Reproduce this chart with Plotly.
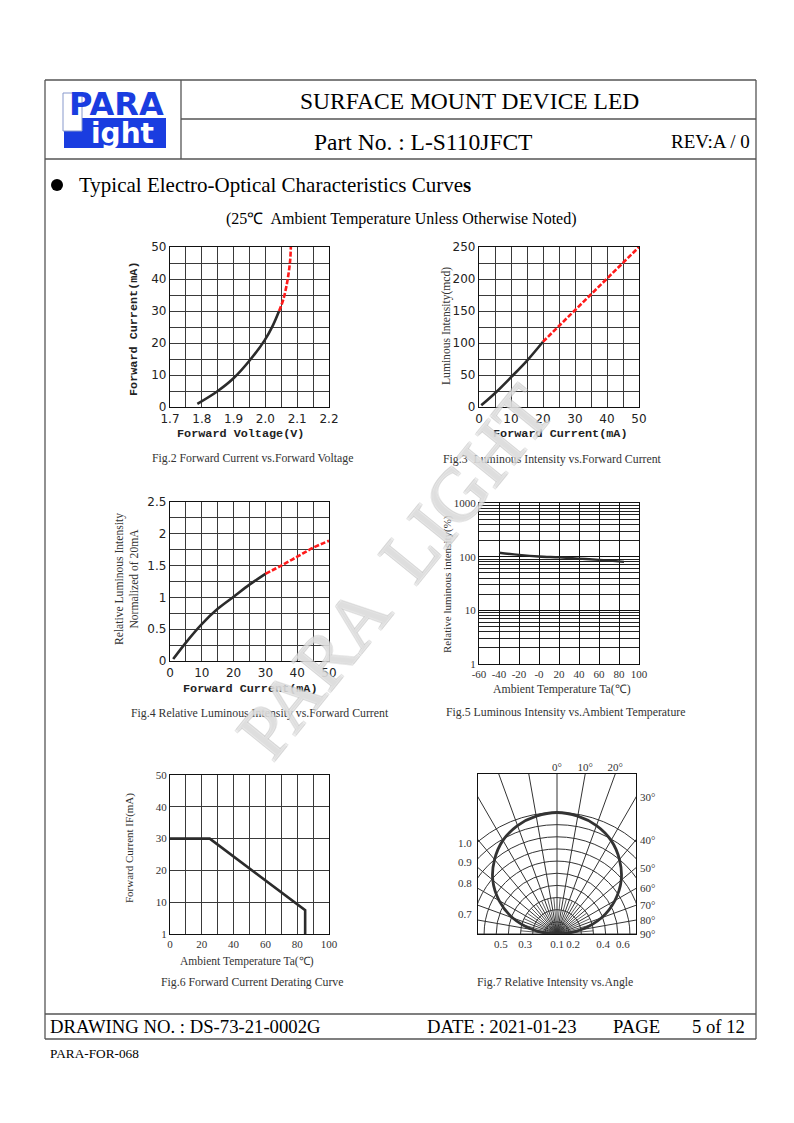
import numpy as np
import plotly.graph_objects as go

# page is photographed with the browser's 8px body margin, so the figure is
# laid out in page pixels shifted by that offset
OFF = 8
W, H = 778, 1107
def px(x): return (x - OFF) / W
def py(y): return 1 - (y - OFF) / H

# ---------------- data ----------------
# Fig.2 Forward current vs forward voltage
fv_solid_v = [1.786, 1.846, 1.899, 1.951, 1.998, 2.024, 2.043]
fv_solid_i = [1.0, 4.7, 8.9, 14.6, 20.9, 25.6, 30.0]
fv_dash_v = [2.043, 2.056, 2.066, 2.073, 2.078, 2.080]
fv_dash_i = [30.0, 33.5, 37.7, 41.8, 46.0, 50.0]

# Fig.3 Luminous intensity vs forward current
li_solid_if = [0.7, 5.4, 10.1, 15.1, 20.0]
li_solid_iv = [2.6, 23.5, 47.0, 73.0, 102.0]
li_dash_if = [20.0, 50.0]
li_dash_iv = [102.0, 250.0]

# Fig.4 Relative luminous intensity vs forward current
rel_solid_if = [1.0, 5.0, 10.0, 15.0, 20.0, 25.0, 30.0]
rel_solid_v = [0.03, 0.29, 0.58, 0.82, 1.01, 1.20, 1.37]
rel_dash_if = [30.0, 35.0, 40.0, 45.0, 50.0]
rel_dash_v = [1.37, 1.50, 1.64, 1.78, 1.89]

# Fig.5 Luminous intensity vs ambient temperature
temp_ta = [-40, -20, 0, 20, 40, 60, 85]
temp_iv = [118, 108, 101, 97, 92, 87, 80]
fig5_xticks = [-60, -40, -20, 0, 20, 40, 60, 80, 100]
fig5_xtext = ['-60', '-40', '-20', '-0', '20', '40', '60', '80', '100']

# Fig.6 Forward current derating curve
der_ta = [0, 25, 85, 85]
der_if = [30, 30, 7.5, 0]
fig6_yticks = [0, 10, 20, 30, 40, 50]
fig6_ytext = ['1', '10', '20', '30', '40', '50']

# Fig.7 Relative intensity vs angle
ang_deg = [-90, -80, -70, -60, -50, -40, -30, -20, -10, 0, 10, 20, 30, 40, 50, 60, 70, 80, 90]
ang_rel = [0.0, 0.20, 0.39, 0.55, 0.69, 0.80, 0.89, 0.95, 0.985, 1.0,
           0.985, 0.95, 0.89, 0.80, 0.69, 0.55, 0.39, 0.20, 0.0]
arc_levels = [0.1, 0.2, 0.3, 0.4, 0.5, 0.6, 0.7, 0.8, 0.9, 1.0]
ray_deg = list(range(-90, 91, 10))
ray_fine_deg = list(range(-85, 90, 10))
top_deg = [0, 10, 20]
right_deg = [30, 40, 50, 60, 70, 80, 90]
left_vals = [0.165, 0.42, 0.593, 0.749]
left_text = ['0.7', '0.8', '0.9', '1.0']
bottom_vals = [-0.461, -0.263, 0.0, 0.132, 0.379, 0.543]
bottom_text = ['0.5', '0.3', '0.1', '0.2', '0.4', '0.6']

# ---------------- styles ----------------
GRID = '#3a3a3a'
BLACK = '#2b2b2b'
RED = '#ff1a1a'
SERIF = 'Liberation Serif'
SANS = 'DejaVu Sans'
MONO = 'Liberation Mono'
DASH = '5px,2px'

fig = go.Figure()

def line_tr(x, y, xa, ya, color, width=2.6, dash='solid', shape='spline'):
    fig.add_trace(go.Scatter(x=x, y=y, xaxis=xa, yaxis=ya, mode='lines',
                             line=dict(color=color, width=width, dash=dash, shape=shape),
                             hoverinfo='skip', showlegend=False))

# Fig.2
line_tr(fv_solid_v, fv_solid_i, 'x', 'y', BLACK)
line_tr(fv_dash_v, fv_dash_i, 'x', 'y', RED, dash=DASH)
# Fig.3
line_tr(li_solid_if, li_solid_iv, 'x2', 'y2', BLACK)
line_tr(li_dash_if, li_dash_iv, 'x2', 'y2', RED, dash=DASH)
# Fig.4
line_tr(rel_solid_if, rel_solid_v, 'x3', 'y3', BLACK)
line_tr(rel_dash_if, rel_dash_v, 'x3', 'y3', RED, dash=DASH)
# Fig.5
line_tr(temp_ta, temp_iv, 'x4', 'y4', BLACK, width=2.4)
# Fig.6
line_tr(der_ta, der_if, 'x5', 'y5', BLACK, width=2.6, shape='linear')
# Fig.7 polar curve, drawn on cartesian axes
th = np.radians(ang_deg)
r = np.array(ang_rel)
cx, cy = r * np.sin(th), r * np.cos(th)
line_tr(cx, cy, 'x6', 'y6', '#333333', width=2.8)
# transparent copies so the overlaid label axes (top / right) get drawn
line_tr(cx, cy, 'x7', 'y6', 'rgba(0,0,0,0)', width=0.1)
line_tr(cx, cy, 'x6', 'y7', 'rgba(0,0,0,0)', width=0.1)


def lin_axis(dom, rng, dtick, mdtick, fam, size, color='#222', **kw):
    d = dict(domain=dom, range=rng, dtick=dtick, tick0=rng[0], showgrid=True,
             gridcolor=GRID, gridwidth=1,
             minor=dict(dtick=mdtick, tick0=rng[0], showgrid=True, gridcolor=GRID,
                        gridwidth=1, ticks=''),
             showline=True, mirror=True, linecolor='#111', linewidth=1.3,
             ticks='', zeroline=False, fixedrange=True, automargin=False,
             tickfont=dict(family=fam, size=size, color=color))
    d.update(kw)
    return d

xdomL = [px(170), px(329)]
xdomR = [px(479), px(639)]

layout = dict(
    template='none',
    width=W, height=H, margin=dict(l=0, r=0, t=0, b=0, pad=0, autoexpand=False),
    paper_bgcolor='white', plot_bgcolor='white', showlegend=False,
    font=dict(family=SERIF, color='black'),
    xaxis=lin_axis(xdomL, [1.7, 2.2], 0.1, 0.05, SANS, 12, anchor='y', tickformat='.1f'),
    yaxis=lin_axis([py(407), py(247)], [0, 50], 10, 5, SANS, 12, anchor='x'),
    xaxis2=lin_axis(xdomR, [0, 50], 10, 5, SANS, 12, anchor='y2'),
    yaxis2=lin_axis([py(407), py(247)], [0, 250], 50, 25, SANS, 12, anchor='x2'),
    xaxis3=lin_axis(xdomL, [0, 50], 10, 5, SANS, 12, anchor='y3'),
    yaxis3=lin_axis([py(661), py(502)], [0, 2.5], 0.5, 0.25, SANS, 12, anchor='x3'),
    xaxis4=dict(domain=xdomR, range=[-60, 100], tickvals=fig5_xticks, ticktext=fig5_xtext,
                showgrid=True, gridcolor='#111', gridwidth=1, showline=True, mirror=True,
                linecolor='#111', linewidth=1.3, ticks='', zeroline=False, anchor='y4',
                automargin=False, tickangle=0,
                tickfont=dict(family=SERIF, size=11, color='#333')),
    yaxis4=dict(domain=[py(664), py(503)], type='log', range=[0, 3],
                tickvals=[1, 10, 100, 1000], ticktext=['1', '10', '100', '1000'],
                showgrid=True, gridcolor='#111', gridwidth=1.2,
                minor=dict(tickvals=[2, 3, 4, 5, 6, 7, 8, 9, 20, 30, 40, 50, 60, 70, 80, 90,
                                     200, 300, 400, 500, 600, 700, 800, 900],
                           showgrid=True, gridcolor='#222', gridwidth=1, ticks=''),
                showline=True, mirror=True, linecolor='#111', linewidth=1.3, ticks='',
                zeroline=False, anchor='x4', automargin=False,
                tickfont=dict(family=SERIF, size=11, color='#333')),
    xaxis5=lin_axis(xdomL, [0, 100], 20, 10, SERIF, 11, color='#333', anchor='y5'),
    yaxis5=dict(domain=[py(934), py(775)], range=[0, 50], tickvals=fig6_yticks,
                ticktext=fig6_ytext, showgrid=True, gridcolor=GRID, gridwidth=1,
                showline=True, mirror=True, linecolor='#111', linewidth=1.3, ticks='',
                zeroline=False, anchor='x5', automargin=False,
                tickfont=dict(family=SERIF, size=11, color='#333')),
)

# Fig.7 axes
S7 = 121.5
xr7 = [-79 / S7, 79 / S7]
yr7 = [0, 160 / S7]
xedge = xr7[1]
ytop = yr7[1]
tf7 = dict(family=SERIF, size=11, color='#333')
common7 = dict(showgrid=False, zeroline=False, ticks='', automargin=False, tickfont=tf7,
               fixedrange=True)
layout['xaxis6'] = dict(domain=[px(478), px(636)], range=xr7, anchor='y6', showline=True,
                        mirror=True, linecolor='#111', linewidth=1.2, tickangle=0,
                        tickvals=bottom_vals, ticktext=bottom_text, **common7)
layout['yaxis6'] = dict(domain=[py(934), py(774)], range=yr7, anchor='x6', showline=True,
                        mirror=True, linecolor='#111', linewidth=1.2, ticklabelstandoff=3,
                        tickvals=left_vals, ticktext=left_text, **common7)
layout['xaxis7'] = dict(overlaying='x6', side='top', range=xr7, anchor='y6', showline=False,
                        tickangle=0, domain=[px(478), px(636)],
                        tickvals=[ytop * np.tan(np.radians(a)) for a in top_deg],
                        ticktext=[f'{a}°' for a in top_deg], **common7)
layout['yaxis7'] = dict(overlaying='y6', side='right', range=yr7, anchor='x6', showline=False,
                        domain=[py(934), py(774)], ticklabelstandoff=3,
                        tickvals=[xedge / np.tan(np.radians(a)) if a < 90 else 0.0 for a in right_deg],
                        ticktext=[f'{a}°' for a in right_deg], **common7)
fig.update_layout(**layout)

shapes = []
for lv in arc_levels:
    shapes.append(dict(type='circle', xref='x6', yref='y6', x0=-lv, x1=lv, y0=-lv, y1=lv,
                       line=dict(color='#333', width=1)))
for a in ray_deg:
    t = np.radians(a)
    shapes.append(dict(type='line', xref='x6', yref='y6', x0=0, y0=0,
                       x1=3 * np.sin(t), y1=3 * np.cos(t), line=dict(color='#333', width=1)))
for a in ray_fine_deg:
    t = np.radians(a)
    shapes.append(dict(type='line', xref='x6', yref='y6', x0=0, y0=0,
                       x1=0.3 * np.sin(t), y1=0.3 * np.cos(t), line=dict(color='#333', width=0.8)))

# page frame
LC = '#555'
def pline(x0, y0, x1, y1, w=1.3):
    shapes.append(dict(type='line', xref='paper', yref='paper', x0=px(x0), y0=py(y0),
                       x1=px(x1), y1=py(y1), line=dict(color=LC, width=w)))
pline(45, 80, 756, 80)
pline(45, 80, 45, 1039)
pline(756, 80, 756, 1039)
pline(181, 80, 181, 159)
pline(181, 119, 756, 119)
pline(45, 159, 756, 159)
pline(45, 1014, 756, 1014)
pline(45, 1039, 756, 1039)

# logo
BLUE = '#1a3de0'
shapes.append(dict(type='rect', xref='paper', yref='paper', x0=px(64), x1=px(166),
                   y0=py(148), y1=py(118), fillcolor=BLUE, line=dict(width=0)))
shapes.append(dict(type='rect', xref='paper', yref='paper', x0=px(63), x1=px(82),
                   y0=py(131), y1=py(93), fillcolor='white', line=dict(color='#8899cc', width=1)))
# bullet
shapes.append(dict(type='circle', xref='paper', yref='paper', x0=px(51), x1=px(63),
                   y0=py(191), y1=py(179), fillcolor='black', line=dict(width=0)))
fig.update_layout(shapes=shapes)

ann = []
def txt(x, y, s, size, fam=SERIF, color='black', xanchor='center', angle=0, bold=False, **kw):
    d = dict(x=px(x), y=py(y), xref='paper', yref='paper', text=s, showarrow=False,
             xanchor=xanchor, yanchor='middle', textangle=angle,
             font=dict(family=fam, size=size, color=color,
                       weight='bold' if bold else 'normal'))
    d.update(kw)
    ann.append(d)

# logo text
txt(116, 104, 'PARA', 32, fam='DejaVu Sans', color=BLUE, bold=True)
txt(123, 133, 'ight', 28, fam='DejaVu Sans', color='white', bold=True)

# header
txt(469, 101, 'SURFACE MOUNT DEVICE LED', 23.5)
txt(423, 142, 'Part No. : L-S110JFCT', 23.5)
txt(710, 142, 'REV:A / 0', 19)
txt(77, 185, 'Typical Electro-Optical Characteristics Curve<b>s</b>', 21, xanchor='left')
txt(401, 219, '(25℃  Ambient Temperature Unless Otherwise Noted)', 16)

# footer
txt(48, 1026, 'DRAWING NO. : DS-73-21-0002G', 18.7, xanchor='left')
txt(425, 1026, 'DATE : 2021-01-23', 18.7, xanchor='left')
txt(611, 1026, 'PAGE', 18.7, xanchor='left')
txt(690, 1026, '5 of 12', 18.7, xanchor='left')
txt(48, 1053, 'PARA-FOR-068', 13.3, xanchor='left')

# chart titles
TC = '#222'
GC = '#333'
CAP = 11.8
txt(240, 434, 'Forward Voltage(V)', 11.8, fam=MONO, color=TC, bold=True)
txt(134, 328, 'Forward Current(mA)', 11.8, fam=MONO, color=TC, bold=True, angle=-90)
txt(252, 458, 'Fig.2 Forward Current vs.Forward Voltage', CAP, color=GC)

txt(560, 434, 'Forward Current(mA)', 11.8, fam=MONO, color=TC, bold=True)
txt(446, 326, 'Luminous Intensity(mcd)', 11.6, color=GC, angle=-90)
txt(552, 459, 'Fig.3  Luminous Intensity vs.Forward Current', CAP, color=GC)

txt(251, 689, 'Forward Current(mA)', 11.8, fam=MONO, color=TC, bold=True)
txt(127, 579, 'Relative Luminous Intensity<br>Normalized of 20mA', 11.6, color=GC, angle=-90)
txt(260, 713, 'Fig.4 Relative Luminous Intensity vs.Forward Current', CAP, color=GC)

txt(447, 584, 'Relative luminous intensity(%)', 11, color=GC, angle=-90)
txt(562, 689, 'Ambient Temperature Ta(℃)', 11.8, color=GC)
txt(565, 712, 'Fig.5 Luminous Intensity vs.Ambient Temperature', CAP, color=GC)

txt(129, 848, 'Forward Current IF(mA)', 11, color=GC, angle=-90)
txt(247, 961, 'Ambient Temperature Ta(℃)', 11.5, color=GC)
txt(252, 982, 'Fig.6 Forward Current Derating Curve', CAP, color=GC)

txt(555, 982, 'Fig.7 Relative Intensity vs.Angle', CAP, color=GC)

# watermark
ann.append(dict(x=px(394), y=py(572), xref='paper', yref='paper', text='PARA  LIGHT',
                showarrow=False, textangle=-51, xanchor='center', yanchor='middle',
                font=dict(family=SERIF, size=75, color='rgba(255,255,255,0.4)',
                          shadow='1px 1px 0 #c0c0c0, -1px -1px 0 #c0c0c0, 1px -1px 0 #c0c0c0, -1px 1px 0 #c0c0c0')))

fig.update_layout(annotations=ann)
fig.write_html('out.html')
